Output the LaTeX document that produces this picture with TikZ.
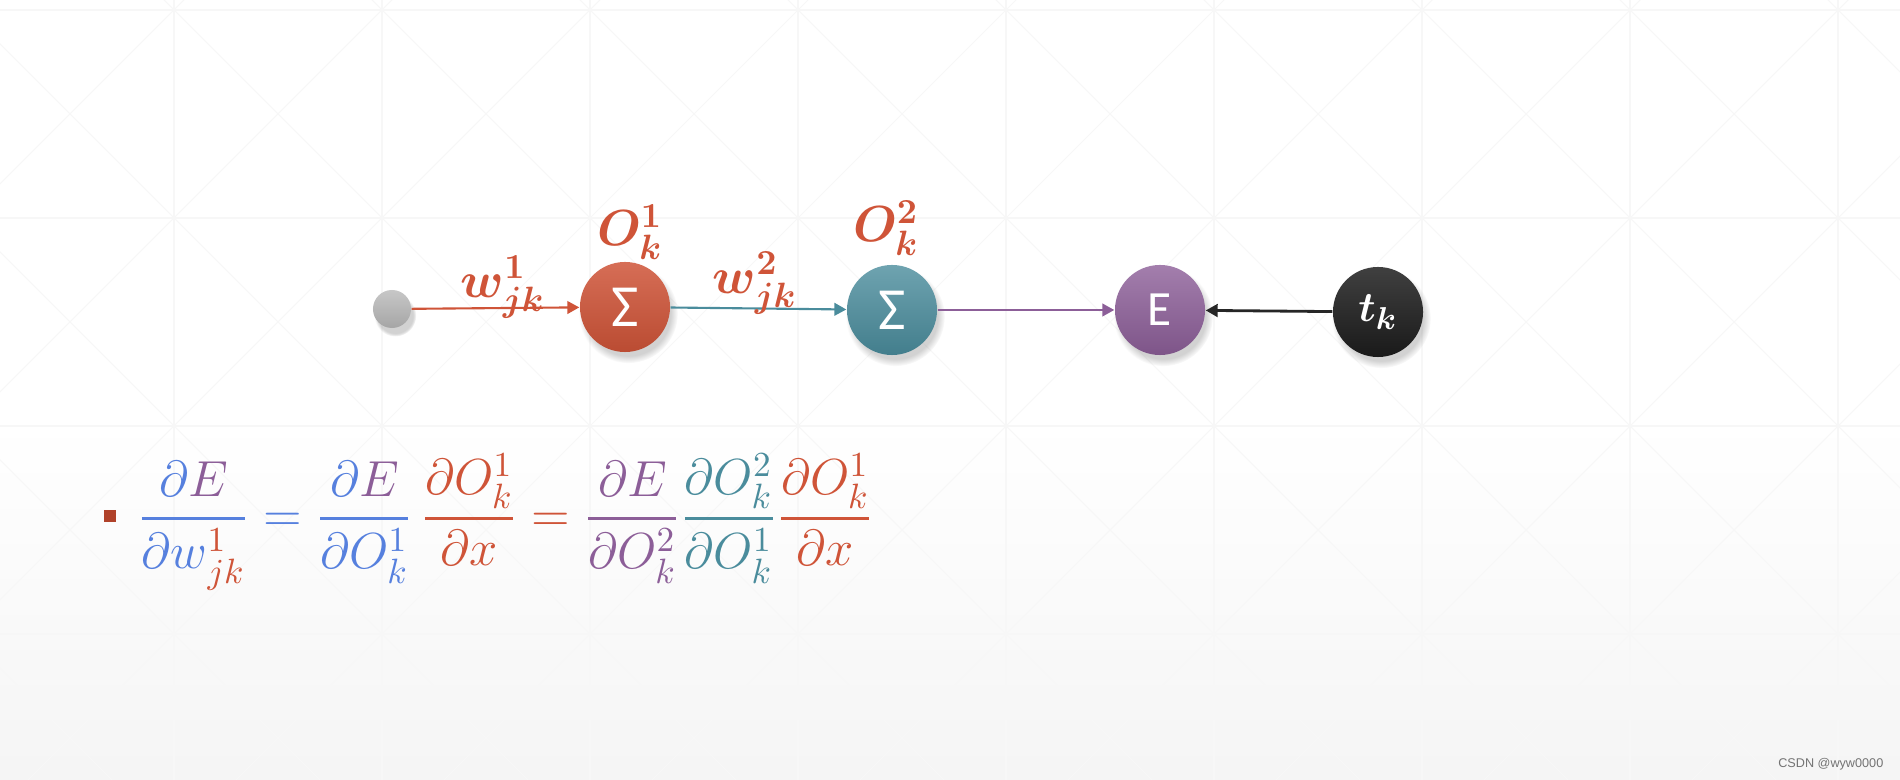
\documentclass[tikz,border=0pt]{standalone}
\usepackage{fontspec}
\usepackage{amsmath}
\usepackage{bm}
\usetikzlibrary{arrows.meta,shadows}
\newfontfamily\calfont{Carlito}
\newfontfamily\wmfont{Liberation Sans}
\definecolor{redO}{RGB}{207,84,56}
\definecolor{tealO}{RGB}{74,140,156}
\definecolor{purpE}{RGB}{140,94,152}
\definecolor{blueD}{RGB}{86,128,222}
\definecolor{bulletc}{RGB}{176,66,42}
\newcommand{\pdfrac}[2]{\genfrac{}{}{0.8pt}{0}{#1}{#2}}
\tikzset{
  neuron/.style={circle,minimum size=0.9cm,inner sep=0pt,text=white,
    circular drop shadow={shadow xshift=0.03cm,shadow yshift=-0.06cm,opacity=0.35}},
  wlabel/.style={text=redO,font=\fontsize{14}{16}\selectfont},
  conn/.style={line width=0.6pt,-{Triangle[length=3.4pt,width=3.6pt]}},
  gridline/.style={draw=black!3,line width=0.3pt},
}
\begin{document}
\begin{tikzpicture}[x=0.01cm,y=-0.01cm]
    \useasboundingbox (0,0) rectangle (1900,780);
    % background
    \fill[white] (0,0) rectangle (1900,780);
    \shade[top color=white,bottom color=black!4] (0,420) rectangle (1900,780);
    \begin{scope}
      \clip (0,0) rectangle (1900,780);
      \foreach \gx in {174,382,...,1838} \draw[gridline] (\gx,0) -- (\gx,780);
      \foreach \gy in {10,218,426,634} \draw[gridline] (0,\gy) -- (1900,\gy);
      \foreach \c in {-668,-460,...,1828} \draw[gridline] ({\c-10},-10) -- ({\c+790},790);
      \foreach \c in {-24,184,...,2680} \draw[gridline] ({\c+10},-10) -- ({\c-790},790);
    \end{scope}
    % neurons
    \node[neuron,minimum size=0.38cm,top color=black!22,bottom color=black!35] (in) at (392,309) {};
    \node[neuron,top color=redO!85!white,bottom color=redO!90!black] (s1) at (625,307) {\calfont\fontsize{17}{17}\selectfont Σ};
    \node[neuron,top color=tealO!80!white,bottom color=tealO!90!black] (s2) at (892,310) {\calfont\fontsize{17}{17}\selectfont Σ};
    \node[neuron,top color=purpE!80!white,bottom color=purpE!90!black] (err) at (1160,310) {\calfont\fontsize{14}{14}\selectfont E};
    \node[neuron,top color=black!75,bottom color=black!90] (tk) at (1378,312) {\fontsize{13}{15}\selectfont$\bm{t_k}$};
    \draw[conn,redO] (in) -- (s1);
    \draw[conn,tealO] (s1) -- (s2);
    \draw[conn,purpE] (s2) -- (err);
    \draw[conn,black!85,line width=0.8pt] (tk) -- (err);
    % weights and outputs
    \node[wlabel] (w1) at (503,287) {$\bm{w^{1}_{jk}}$};
    \node[wlabel] (o1) at (630,232) {$\bm{O^{1}_{k}}$};
    \node[wlabel] (w2) at (755,283) {$\bm{w^{2}_{jk}}$};
    \node[wlabel] (o2) at (886,228) {$\bm{O^{2}_{k}}$};
    % chain rule
    \node[fill=bulletc,minimum size=0.12cm,inner sep=0pt] (dot) at (110,516) {};
    \node[anchor=west,inner sep=0pt,font=\fontsize{14}{18}\selectfont] (eq) at (137,522) {$\displaystyle
      {\color{blueD}\pdfrac{\partial{\color{purpE}E}}{{\color{redO}\textcolor{blueD}{\partial w}^1_{jk}}}}
      \mathrel{\color{blueD}=}
      {\color{blueD}\pdfrac{\partial{\color{purpE}E}}{\partial O^1_k}}\,
      {\color{redO}\pdfrac{\partial O^1_k}{\partial x}}
      \mathrel{\color{redO}=}
      {\color{purpE}\pdfrac{\partial E}{\partial O^2_k}}
      {\color{tealO}\pdfrac{\partial O^2_k}{\partial O^1_k}}
      {\color{redO}\pdfrac{\partial O^1_k}{\partial x}}$};
    \node[anchor=east,inner sep=0pt,text=black!55,font=\wmfont\fontsize{3.6}{4.5}\selectfont] (wm) at (1884,764) {CSDN @wyw0000};
\end{tikzpicture}
\end{document}
